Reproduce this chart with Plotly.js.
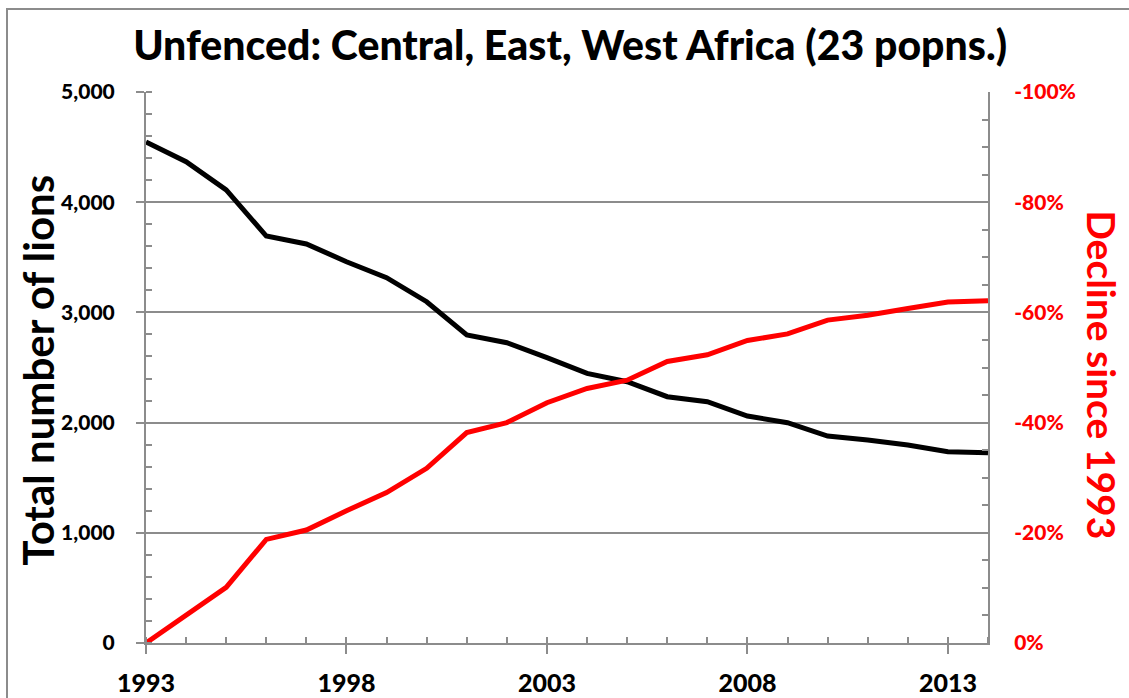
<!DOCTYPE html>
<html>
<head>
<meta charset="utf-8">
<script src="https://cdn.plot.ly/plotly-3.0.1.min.js"></script>
<style>
  html, body { margin: 0; padding: 0; background: #fff; }
  #wrap { position: relative; width: 1129px; height: 698px; overflow: hidden; }
  #chart { width: 1129px; height: 698px; }
  #frame { position: absolute; left: 6px; top: 8px; width: 1200px; height: 800px;
           border: 2px solid #8c8c8c; pointer-events: none; box-sizing: border-box; }
</style>
</head>
<body>
<div id="wrap">
  <div id="chart"></div>
  <div id="frame"></div>
</div>
<script>
const years = [1993,1994,1995,1996,1997,1998,1999,2000,2001,2002,2003,2004,2005,2006,2007,2008,2009,2010,2011,2012,2013,2014];
const lions = [4546,4368,4111,3693,3621,3460,3315,3097,2795,2725,2590,2447,2371,2235,2190,2060,1999,1878,1842,1797,1736,1727];
const decline = [0,-0.051,-0.101,-0.188,-0.205,-0.240,-0.273,-0.317,-0.382,-0.400,-0.436,-0.462,-0.477,-0.511,-0.523,-0.549,-0.561,-0.586,-0.595,-0.607,-0.619,-0.621];
const leftTicks = [0,1000,2000,3000,4000,5000];
const rightTicks = [0,-0.2,-0.4,-0.6,-0.8,-1.0];
const rightTickText = rightTicks.map(v => (v === 0 ? '0' : '-' + Math.round(Math.abs(v)*100)) + '%');
const xTicks = [1993,1998,2003,2008,2013];

const FONT = 'Lato, "Open Sans", sans-serif';
const GRID = '#8c8c8c';

const traces = [
  { x: years, y: lions, type: 'scatter', mode: 'lines', yaxis: 'y',
    line: { color: '#000000', width: 5 }, name: 'Total number of lions', hoverinfo: 'x+y' },
  { x: years, y: decline, type: 'scatter', mode: 'lines', yaxis: 'y2',
    line: { color: '#ff0000', width: 5 }, name: 'Decline since 1993', hoverinfo: 'x+y' }
];

const layout = {
  width: 1129, height: 698,
  margin: { l: 146, r: 141, t: 92, b: 55, pad: 0 },
  paper_bgcolor: 'rgba(0,0,0,0)', plot_bgcolor: '#ffffff',
  showlegend: false,
  font: { family: FONT, color: '#000' },
  title: { text: 'Unfenced: Central, East, West Africa (23 popns.)',
           font: { family: FONT, size: 41, weight: 900, color: '#000' },
           x: 0.505, xanchor: 'center', y: 0.935, yanchor: 'middle', yref: 'container' },
  xaxis: {
    range: [1993, 2014], tickmode: 'array', tickvals: xTicks, ticktext: xTicks.map(String),
    showgrid: false, zeroline: false,
    showline: true, linecolor: GRID, linewidth: 2,
    ticks: 'outside', ticklen: 9, tickwidth: 2, tickcolor: GRID,
    tickfont: { family: FONT, size: 25, weight: 900, color: '#000' },
    ticklabelstandoff: 8,
    minor: { tickmode: 'linear', tick0: 1993, dtick: 1, ticks: 'inside', ticklen: 6, tickwidth: 2, tickcolor: GRID, showgrid: false }
  },
  yaxis: {
    range: [0, 5000], tickmode: 'array', tickvals: leftTicks,
    ticktext: leftTicks.map(v => v.toLocaleString('en-US')),
    showgrid: true, gridcolor: GRID, gridwidth: 2, zeroline: false,
    showline: true, linecolor: GRID, linewidth: 2,
    ticks: 'outside', ticklen: 8, tickwidth: 2, tickcolor: GRID,
    tickfont: { family: FONT, size: 21, weight: 900, color: '#000' },
    ticklabelstandoff: 17,
    minor: { tickmode: 'linear', tick0: 0, dtick: 200, ticks: 'inside', ticklen: 6, tickwidth: 2, tickcolor: GRID, showgrid: false }
  },
  yaxis2: {
    overlaying: 'y', side: 'right', anchor: 'x',
    range: [0, -1], tickmode: 'array', tickvals: rightTicks, ticktext: rightTickText,
    showgrid: false, zeroline: false,
    showline: true, linecolor: GRID, linewidth: 2,
    ticks: 'inside', ticklen: 8, tickwidth: 2, tickcolor: GRID,
    tickfont: { family: FONT, size: 21, weight: 900, color: '#ff0000' },
    ticklabelstandoff: 20,
    minor: { tickmode: 'linear', tick0: 0, dtick: 0.05, ticks: 'inside', ticklen: 6, tickwidth: 2, tickcolor: GRID, showgrid: false }
  },
  annotations: [
    { text: 'Total number of lions', xref: 'paper', yref: 'paper', x: -0.128, y: 0.495,
      xanchor: 'center', yanchor: 'middle', textangle: -90, showarrow: false,
      font: { family: FONT, size: 42, weight: 700, color: '#000' } },
    { text: 'Decline since 1993', xref: 'paper', yref: 'paper', x: 1.136, y: 0.487,
      xanchor: 'center', yanchor: 'middle', textangle: 90, showarrow: false,
      font: { family: FONT, size: 39, weight: 700, color: '#ff0000' } }
  ]
};

Plotly.newPlot('chart', traces, layout, { displayModeBar: false, staticPlot: true });
</script>
</body>
</html>
